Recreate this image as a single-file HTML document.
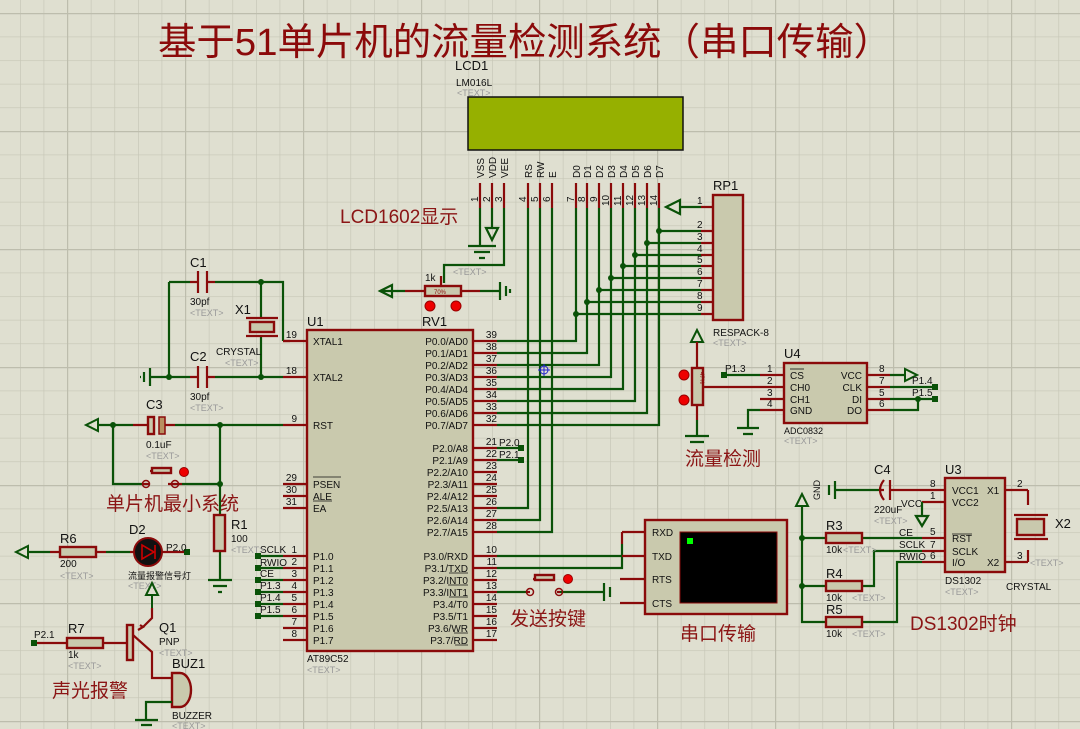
<!DOCTYPE html>
<html><head><meta charset="utf-8"><style>
html,body{margin:0;padding:0;background:#dfdfd0}
svg{display:block}
text{font-family:"Liberation Sans","Noto Sans CJK SC",sans-serif}
.w{stroke:#0a5208;stroke-width:2.2;fill:none}
.p{stroke:#8a0a0a;stroke-width:2.2;fill:none}
.b{fill:#c9c9ad;stroke:#8a0a0a;stroke-width:2.4}
.t{font-size:10px;fill:#111}
.g{font-size:9px;fill:#999}
.n{font-size:13px;fill:#111}
.c{font-size:19px;fill:#8b1515}
.d{fill:#0a5208}
</style></head><body>
<svg width="1080" height="729" viewBox="0 0 1080 729" xmlns="http://www.w3.org/2000/svg">
<defs>
<pattern id="gm" width="23.6" height="23.6" patternUnits="userSpaceOnUse" x="20" y="13">
<path d="M0 0V23.6M0 0H23.6" stroke="#c6c6b6" stroke-width="1.3" fill="none"/></pattern>
<pattern id="gM" width="118" height="118" patternUnits="userSpaceOnUse" x="67" y="13">
<path d="M0 0V118M0 0H118" stroke="#bdbdad" stroke-width="2.4" fill="none"/></pattern>
</defs>
<rect width="1080" height="729" fill="#dfdfd0"/>
<rect width="1080" height="729" fill="url(#gm)"/>
<rect width="1080" height="729" fill="url(#gM)"/>

<text x="158" y="55" font-size="38" fill="#8b0a0a" textLength="734" lengthAdjust="spacingAndGlyphs">基于51单片机的流量检测系统（串口传输）</text>

<text x="455" y="70" class="n">LCD1</text>
<text x="456" y="86" class="t" font-size="9">LM016L</text>
<text x="457" y="96" class="g">&lt;TEXT&gt;</text>
<rect x="468" y="97" width="215" height="53" fill="#96b000" stroke="#111" stroke-width="1.5"/>
<g class="t" font-size="10">
<text transform="translate(484,178) rotate(-90)">VSS</text>
<text transform="translate(496,178) rotate(-90)">VDD</text>
<text transform="translate(508,178) rotate(-90)">VEE</text>
<text transform="translate(532,178) rotate(-90)">RS</text>
<text transform="translate(544,178) rotate(-90)">RW</text>
<text transform="translate(556,178) rotate(-90)">E</text>
<text transform="translate(580,178) rotate(-90)">D0</text>
<text transform="translate(591,178) rotate(-90)">D1</text>
<text transform="translate(603,178) rotate(-90)">D2</text>
<text transform="translate(615,178) rotate(-90)">D3</text>
<text transform="translate(627,178) rotate(-90)">D4</text>
<text transform="translate(639,178) rotate(-90)">D5</text>
<text transform="translate(651,178) rotate(-90)">D6</text>
<text transform="translate(663,178) rotate(-90)">D7</text>
<text transform="translate(478,202) rotate(-90)">1</text>
<text transform="translate(490,202) rotate(-90)">2</text>
<text transform="translate(502,202) rotate(-90)">3</text>
<text transform="translate(526,202) rotate(-90)">4</text>
<text transform="translate(538,202) rotate(-90)">5</text>
<text transform="translate(550,202) rotate(-90)">6</text>
<text transform="translate(574,202) rotate(-90)">7</text>
<text transform="translate(585,202) rotate(-90)">8</text>
<text transform="translate(597,202) rotate(-90)">9</text>
<text transform="translate(609,206) rotate(-90)">10</text>
<text transform="translate(621,206) rotate(-90)">11</text>
<text transform="translate(633,206) rotate(-90)">12</text>
<text transform="translate(645,206) rotate(-90)">13</text>
<text transform="translate(657,206) rotate(-90)">14</text>
</g>
<path class="p" d="M480 183V208M492 183V208M504 183V208M528 183V208M540 183V208M552 183V208M576 183V208M587 183V208M599 183V208M611 183V208M623 183V208M635 183V208M647 183V208M659 183V208"/>
<path class="w" d="M480 208V245M468 246H496M474 252H490M479 258H485"/>
<path class="w" d="M492 208V228M486 228L492 240L498 228Z"/>
<path class="w" d="M504 208V265H444V283"/>
<text x="340" y="223" class="c">LCD1602显示</text>

<path class="p" d="M405 291H425M461 291H480"/>
<rect x="425" y="286" width="36" height="10" class="b"/>
<text x="434" y="294" font-size="6" fill="#8a0a0a">70%</text>
<path class="w" d="M380 291H405M380 291L392 285V297Z M480 291H500M500 282V300M506 286V296M510 289V293"/>
<path class="p" d="M441 276L441 286" />
<circle cx="430" cy="306" r="5" fill="#e00" stroke="#900"/>
<circle cx="456" cy="306" r="5" fill="#e00" stroke="#900"/>
<text x="425" y="281" class="t">1k</text>
<text x="453" y="275" class="g">&lt;TEXT&gt;</text>
<text x="422" y="326" class="n">RV1</text>

<text x="713" y="190" class="n">RP1</text>
<rect x="713" y="195" width="30" height="125" class="b"/>
<text x="713" y="336" class="t" font-size="9">RESPACK-8</text>
<text x="713" y="346" class="g">&lt;TEXT&gt;</text>
<path class="p" d="M701 207H713M701 231H713M701 243H713M701 255H713M701 266H713M701 278H713M701 290H713M701 302H713M701 314H713"/>
<g class="t"><text x="697" y="204">1</text><text x="697" y="228">2</text><text x="697" y="240">3</text><text x="697" y="252">4</text><text x="697" y="263">5</text><text x="697" y="275">6</text><text x="697" y="287">7</text><text x="697" y="299">8</text><text x="697" y="311">9</text></g>
<path class="w" d="M680 207H701M666 207L680 200V214Z"/>
<path class="w" d="M659 208V425H497M659 231H701M647 208V413H497M647 243H701M635 208V401H497M635 255H701M623 208V389H497M623 266H701M611 208V377H497M611 278H701M599 208V365H497M599 290H701M587 208V353H497M587 302H701M576 208V341H497M576 314H701"/>
<g class="d"><circle cx="659" cy="231" r="3"/><circle cx="647" cy="243" r="3"/><circle cx="635" cy="255" r="3"/><circle cx="623" cy="266" r="3"/><circle cx="611" cy="278" r="3"/><circle cx="599" cy="290" r="3"/><circle cx="587" cy="302" r="3"/><circle cx="576" cy="314" r="3"/></g>
<path class="w" d="M528 208V508H497M540 208V520H497M552 208V532H497"/>
<path d="M538 370H550M544 364V376" stroke="#22c" stroke-width="1"/><circle cx="544" cy="370" r="4" fill="none" stroke="#22c"/>

<text x="307" y="326" class="n">U1</text>
<rect x="307" y="330" width="166" height="321" class="b"/>
<text x="307" y="662" class="t" font-size="9">AT89C52</text>
<text x="307" y="673" class="g">&lt;TEXT&gt;</text>
<path class="p" d="M473 341H497M473 353H497M473 365H497M473 377H497M473 389H497M473 401H497M473 413H497M473 425H497M473 448H497M473 460H497M473 472H497M473 484H497M473 496H497M473 508H497M473 520H497M473 532H497M473 556H497M473 568H497M473 580H497M473 592H497M473 604H497M473 616H497M473 628H497M473 640H497"/>
<path class="p" d="M283 341H307M283 377H307M283 425H307M283 484H307M283 496H307M283 508H307M283 556H307M283 568H307M283 580H307M283 592H307M283 604H307M283 616H307M283 628H307M283 640H307"/>
<g class="t" text-anchor="end">
<text x="468" y="345">P0.0/AD0</text><text x="468" y="357">P0.1/AD1</text><text x="468" y="369">P0.2/AD2</text><text x="468" y="381">P0.3/AD3</text><text x="468" y="393">P0.4/AD4</text><text x="468" y="405">P0.5/AD5</text><text x="468" y="417">P0.6/AD6</text><text x="468" y="429">P0.7/AD7</text>
<text x="468" y="452">P2.0/A8</text><text x="468" y="464">P2.1/A9</text><text x="468" y="476">P2.2/A10</text><text x="468" y="488">P2.3/A11</text><text x="468" y="500">P2.4/A12</text><text x="468" y="512">P2.5/A13</text><text x="468" y="524">P2.6/A14</text><text x="468" y="536">P2.7/A15</text>
<text x="468" y="560">P3.0/RXD</text><text x="468" y="572">P3.1/TXD</text><text x="468" y="584">P3.2/INT0</text><text x="468" y="596">P3.3/INT1</text><text x="468" y="608">P3.4/T0</text><text x="468" y="620">P3.5/T1</text><text x="468" y="632">P3.6/WR</text><text x="468" y="644">P3.7/RD</text>
<text x="497" y="338">39</text><text x="497" y="350">38</text><text x="497" y="362">37</text><text x="497" y="374">36</text><text x="497" y="386">35</text><text x="497" y="398">34</text><text x="497" y="410">33</text><text x="497" y="422">32</text>
<text x="497" y="445">21</text><text x="497" y="457">22</text><text x="497" y="469">23</text><text x="497" y="481">24</text><text x="497" y="493">25</text><text x="497" y="505">26</text><text x="497" y="517">27</text><text x="497" y="529">28</text>
<text x="497" y="553">10</text><text x="497" y="565">11</text><text x="497" y="577">12</text><text x="497" y="589">13</text><text x="497" y="601">14</text><text x="497" y="613">15</text><text x="497" y="625">16</text><text x="497" y="637">17</text>
<text x="297" y="338">19</text><text x="297" y="374">18</text><text x="297" y="422">9</text><text x="297" y="481">29</text><text x="297" y="493">30</text><text x="297" y="505">31</text>
<text x="297" y="553">1</text><text x="297" y="565">2</text><text x="297" y="577">3</text><text x="297" y="589">4</text><text x="297" y="601">5</text><text x="297" y="613">6</text><text x="297" y="625">7</text><text x="297" y="637">8</text>
</g>
<g class="t">
<text x="313" y="345">XTAL1</text><text x="313" y="381">XTAL2</text><text x="313" y="429">RST</text>
<text x="313" y="488">PSEN</text><text x="313" y="500">ALE</text><text x="313" y="512">EA</text>
<text x="313" y="560">P1.0</text><text x="313" y="572">P1.1</text><text x="313" y="584">P1.2</text><text x="313" y="596">P1.3</text><text x="313" y="608">P1.4</text><text x="313" y="620">P1.5</text><text x="313" y="632">P1.6</text><text x="313" y="644">P1.7</text>
</g>
<path d="M313 477H341M313 501H332M449 573H468M448 585H468M449 597H468M454 633H468M455 645H468" stroke="#111" stroke-width="0.8"/>
<path class="w" d="M497 448H521M497 460H521"/>
<rect x="518" y="445" width="6" height="6" class="d"/><rect x="518" y="457" width="6" height="6" class="d"/>
<text x="499" y="446" class="t">P2.0</text><text x="499" y="458" class="t">P2.1</text>
<path class="w" d="M258 556H283M258 568H283M258 580H283M258 592H283M258 604H283M258 616H283"/>
<g class="d"><rect x="255" y="553" width="6" height="6"/><rect x="255" y="565" width="6" height="6"/><rect x="255" y="577" width="6" height="6"/><rect x="255" y="589" width="6" height="6"/><rect x="255" y="601" width="6" height="6"/><rect x="255" y="613" width="6" height="6"/></g>
<g class="t"><text x="260" y="553">SCLK</text><text x="260" y="566">RWIO</text><text x="260" y="577">CE</text><text x="260" y="589">P1.3</text><text x="260" y="601">P1.4</text><text x="260" y="613">P1.5</text></g>

<text x="190" y="267" class="n">C1</text>
<path class="w" d="M169 282H190M169 282V377M215 282H283V341M261 282V318M261 336V377M215 377H283M169 377H190M150 377H169M150 368V386M144 372V382M140 377H141"/>
<path class="p" d="M190 282H198M207 282H215M198 271V293M207 271V293M190 377H198M207 377H215M198 366V388M207 366V388M283 341H290"/>
<path class="p" d="M246 318H278M246 336H278"/><rect x="250" y="322" width="24" height="10" class="b"/>
<g class="d"><circle cx="261" cy="282" r="3"/><circle cx="169" cy="377" r="3"/><circle cx="261" cy="377" r="3"/></g>
<text x="190" y="305" class="t" font-size="9">30pf</text><text x="190" y="316" class="g">&lt;TEXT&gt;</text>
<text x="235" y="314" class="n">X1</text>
<text x="216" y="355" class="t" font-size="9">CRYSTAL</text><text x="225" y="366" class="g">&lt;TEXT&gt;</text>
<text x="190" y="361" class="n">C2</text>
<text x="190" y="400" class="t" font-size="9">30pf</text><text x="190" y="411" class="g">&lt;TEXT&gt;</text>
<text x="146" y="409" class="n">C3</text>
<path class="w" d="M98 425H133M113 425V484H142M182 484H220M175 425H283M220 425V515M220 551V580M208 580H232M213 586H227M218 592H222"/>
<path d="M86 425L98 419V431Z" fill="none" stroke="#0a5208" stroke-width="2"/>
<path class="p" d="M133 425H148M165 425H175"/>
<rect x="148" y="417" width="6" height="17" class="b"/><rect x="159" y="417" width="6" height="17" fill="#b89060" stroke="#8a0a0a" stroke-width="1.5"/>
<text x="146" y="448" class="t" font-size="9">0.1uF</text><text x="146" y="459" class="g">&lt;TEXT&gt;</text>
<path class="p" d="M150 471H168M142 484H150M168 484H182"/><rect x="152" y="468" width="19" height="5" class="b"/>
<circle cx="146" cy="484" r="3.5" fill="none" stroke="#8a0a0a" stroke-width="1.5"/><circle cx="175" cy="484" r="3.5" fill="none" stroke="#8a0a0a" stroke-width="1.5"/>
<circle cx="184" cy="472" r="4.5" fill="#e00" stroke="#900"/>
<g class="d"><circle cx="113" cy="425" r="3"/><circle cx="220" cy="425" r="3"/><circle cx="220" cy="484" r="3"/></g>
<text x="106" y="510" class="c" font-size="18">单片机最小系统</text>
<rect x="214" y="515" width="11" height="36" class="b"/>
<text x="231" y="529" class="n">R1</text><text x="231" y="542" class="t" font-size="9">100</text><text x="231" y="553" class="g">&lt;TEXT&gt;</text>

<text x="60" y="543" class="n">R6</text>
<path class="w" d="M27 552H50M106 552H130"/>
<path d="M16 552L28 546V558Z" fill="none" stroke="#0a5208" stroke-width="2"/>
<path class="p" d="M50 552H60M96 552H106M130 552H136M160 552H184"/>
<rect x="60" y="547" width="36" height="10" class="b"/>
<text x="60" y="567" class="t" font-size="9">200</text><text x="60" y="579" class="g">&lt;TEXT&gt;</text>
<text x="129" y="534" class="n">D2</text>
<circle cx="148" cy="552" r="14" fill="#111" stroke="#8a0a0a" stroke-width="2"/>
<path d="M142 545V559L154 552Z M155 545V559" stroke="#c00" stroke-width="1.6" fill="none"/>
<rect x="184" y="549" width="6" height="6" class="d"/><text x="166" y="551" class="t">P2.0</text>
<text x="128" y="579" font-size="9" fill="#111">流量报警信号灯</text><text x="128" y="589" class="g">&lt;TEXT&gt;</text>
<path d="M152 583L146 595H158Z M152 595V608" fill="none" stroke="#0a5208" stroke-width="2"/>
<path class="p" d="M152 608V618L143 627M33 643H67M103 643H127M133 635L152 652V678H172"/>
<path class="p" d="M140 625L143 627L138 630"/>
<rect x="127" y="625" width="6" height="35" class="b"/>
<rect x="67" y="638" width="36" height="10" class="b"/>
<rect x="31" y="640" width="6" height="6" class="d"/><text x="34" y="638" class="t">P2.1</text>
<text x="68" y="633" class="n">R7</text><text x="68" y="658" class="t" font-size="9">1k</text><text x="68" y="669" class="g">&lt;TEXT&gt;</text>
<text x="159" y="632" class="n">Q1</text><text x="159" y="645" class="t" font-size="9">PNP</text><text x="159" y="656" class="g">&lt;TEXT&gt;</text>
<text x="172" y="668" class="n">BUZ1</text>
<path d="M172 673H180A11 17 0 0 1 180 707H172Z" class="b"/>
<path class="w" d="M172 702H146V720M135 720H158M141 725H152"/>
<text x="172" y="719" class="t" font-size="9">BUZZER</text><text x="172" y="729" class="g">&lt;TEXT&gt;</text>
<text x="52" y="697" class="c" font-size="18">声光报警</text>

<path d="M697 330L691 342H703Z" fill="none" stroke="#0a5208" stroke-width="2"/>
<path class="p" d="M697 342V368M697 405V420"/>
<path class="w" d="M697 420V435M685 436H709M690 442H704"/>
<rect x="692" y="368" width="11" height="37" class="b"/>
<text transform="translate(700,372) rotate(90)" font-size="6" fill="#8a0a0a">47%</text>
<circle cx="684" cy="375" r="5" fill="#e00" stroke="#900"/><circle cx="684" cy="400" r="5" fill="#e00" stroke="#900"/>
<path class="p" d="M704 387H760"/>
<text x="784" y="358" class="n">U4</text>
<rect x="784" y="363" width="83" height="60" class="b"/>
<path class="p" d="M760 375H784M760 387H784M760 399H784M760 410H784M867 375H890M867 387H890M867 399H890M867 410H890"/>
<path class="w" d="M724 375H760M890 375H905M890 387H935M890 399H935M890 410H918V399M760 410H748V428M737 428H759M743 434H753"/>
<path d="M905 369V381L917 375Z" fill="none" stroke="#0a5208" stroke-width="2"/>
<rect x="721" y="372" width="6" height="6" class="d"/><rect x="932" y="384" width="6" height="6" class="d"/><rect x="932" y="396" width="6" height="6" class="d"/><circle cx="918" cy="399" r="3" class="d"/>
<g class="t"><text x="725" y="372">P1.3</text><text x="912" y="384">P1.4</text><text x="912" y="396">P1.5</text>
<text x="767" y="372">1</text><text x="767" y="384">2</text><text x="767" y="396">3</text><text x="767" y="407">4</text>
<text x="879" y="372">8</text><text x="879" y="384">7</text><text x="879" y="396">5</text><text x="879" y="407">6</text>
<text x="790" y="379">CS</text><text x="790" y="391">CH0</text><text x="790" y="403">CH1</text><text x="790" y="414">GND</text>
<text x="862" y="379" text-anchor="end">VCC</text><text x="862" y="391" text-anchor="end">CLK</text><text x="862" y="403" text-anchor="end">DI</text><text x="862" y="414" text-anchor="end">DO</text>
<text x="784" y="434" font-size="9">ADC0832</text></g>
<path d="M790 369H804" stroke="#111" stroke-width="0.8"/>
<text x="784" y="444" class="g">&lt;TEXT&gt;</text>
<text x="685" y="465" class="c" font-size="18">流量检测</text>

<path class="w" d="M497 556H622M497 568H622V544"/>
<path class="p" d="M622 532H645M622 556H645M620 579H645M620 603H645M622 532V544"/>
<rect x="645" y="520" width="142" height="94" class="b"/>
<rect x="680" y="532" width="97" height="71" fill="#000" stroke="#8a0a0a"/>
<rect x="687" y="538" width="6" height="6" fill="#0f0"/>
<g class="t" font-size="11"><text x="652" y="536">RXD</text><text x="652" y="560">TXD</text><text x="652" y="583">RTS</text><text x="652" y="607">CTS</text></g>
<text x="680" y="640" class="c" font-size="18">串口传输</text>
<path class="w" d="M497 592H527M560 592H604M604 583V601M610 587V597"/>
<path class="p" d="M533 579H553M527 592H530M557 592H560"/><rect x="535" y="575" width="19" height="5" class="b"/>
<circle cx="530" cy="592" r="3.5" fill="none" stroke="#8a0a0a" stroke-width="1.5"/><circle cx="559" cy="592" r="3.5" fill="none" stroke="#8a0a0a" stroke-width="1.5"/>
<circle cx="568" cy="579" r="4.5" fill="#e00" stroke="#900"/>
<text x="510" y="625" class="c" font-size="18">发送按键</text>

<text x="945" y="474" class="n">U3</text>
<rect x="945" y="478" width="60" height="94" class="b"/>
<path class="p" d="M922 490H945M922 502H945M922 538H945M922 551H945M922 562H945M1005 490H1028M1005 562H1028"/>
<g class="t" font-size="9"><text x="952" y="494">VCC1</text><text x="952" y="506">VCC2</text><text x="952" y="542">RST</text><text x="952" y="555">SCLK</text><text x="952" y="566">I/O</text><text x="987" y="494">X1</text><text x="987" y="566">X2</text>
<text x="930" y="487">8</text><text x="930" y="499">1</text><text x="930" y="535">5</text><text x="930" y="548">7</text><text x="930" y="559">6</text><text x="1017" y="487">2</text><text x="1017" y="559">3</text>
<text x="945" y="584">DS1302</text><text x="1006" y="590">CRYSTAL</text>
<text x="899" y="536">CE</text><text x="899" y="548">SCLK</text><text x="899" y="560">RWIO</text><text x="901" y="507">VCC</text>
<text x="874" y="513">220uF</text><text x="826" y="553">10k</text><text x="826" y="601">10k</text><text x="826" y="637">10k</text></g>
<path d="M952 534H972" stroke="#111" stroke-width="0.7"/>
<text x="945" y="595" class="g">&lt;TEXT&gt;</text>
<path class="p" d="M1028 490V505M1028 550V562M1014 515H1048M1014 539H1048"/><rect x="1017" y="519" width="27" height="16" class="b"/>
<text x="1055" y="528" class="n">X2</text><text x="1030" y="566" class="g">&lt;TEXT&gt;</text>
<text x="874" y="474" class="n">C4</text>
<path class="w" d="M862 490H880M835 490H862M835 481V499M829 485V495"/>
<path class="p" d="M880 490H884M890 490H922M890 480V500M884 480Q876 490 884 500"/>
<text transform="translate(820,500) rotate(-90)" font-size="9" fill="#111">GND</text>
<text x="874" y="524" class="g">&lt;TEXT&gt;</text>
<path class="w" d="M922 502V516M916 516L922 526L928 516Z" />
<path d="M802 494L796 506H808Z" fill="none" stroke="#0a5208" stroke-width="2"/>
<path class="w" d="M802 506V622H826M802 538H826M802 586H826M862 538H922M862 586H874V551H922M862 622H897V562H922"/>
<g class="d"><circle cx="802" cy="538" r="3"/><circle cx="802" cy="586" r="3"/></g>
<rect x="826" y="533" width="36" height="10" class="b"/><rect x="826" y="581" width="36" height="10" class="b"/><rect x="826" y="617" width="36" height="10" class="b"/>
<text x="826" y="530" class="n">R3</text><text x="826" y="578" class="n">R4</text><text x="826" y="614" class="n">R5</text>
<text x="843" y="553" class="g">&lt;TEXT&gt;</text><text x="852" y="601" class="g">&lt;TEXT&gt;</text><text x="852" y="637" class="g">&lt;TEXT&gt;</text>
<text x="910" y="630" class="c" font-size="19">DS1302时钟</text>
</svg>
</body></html>
